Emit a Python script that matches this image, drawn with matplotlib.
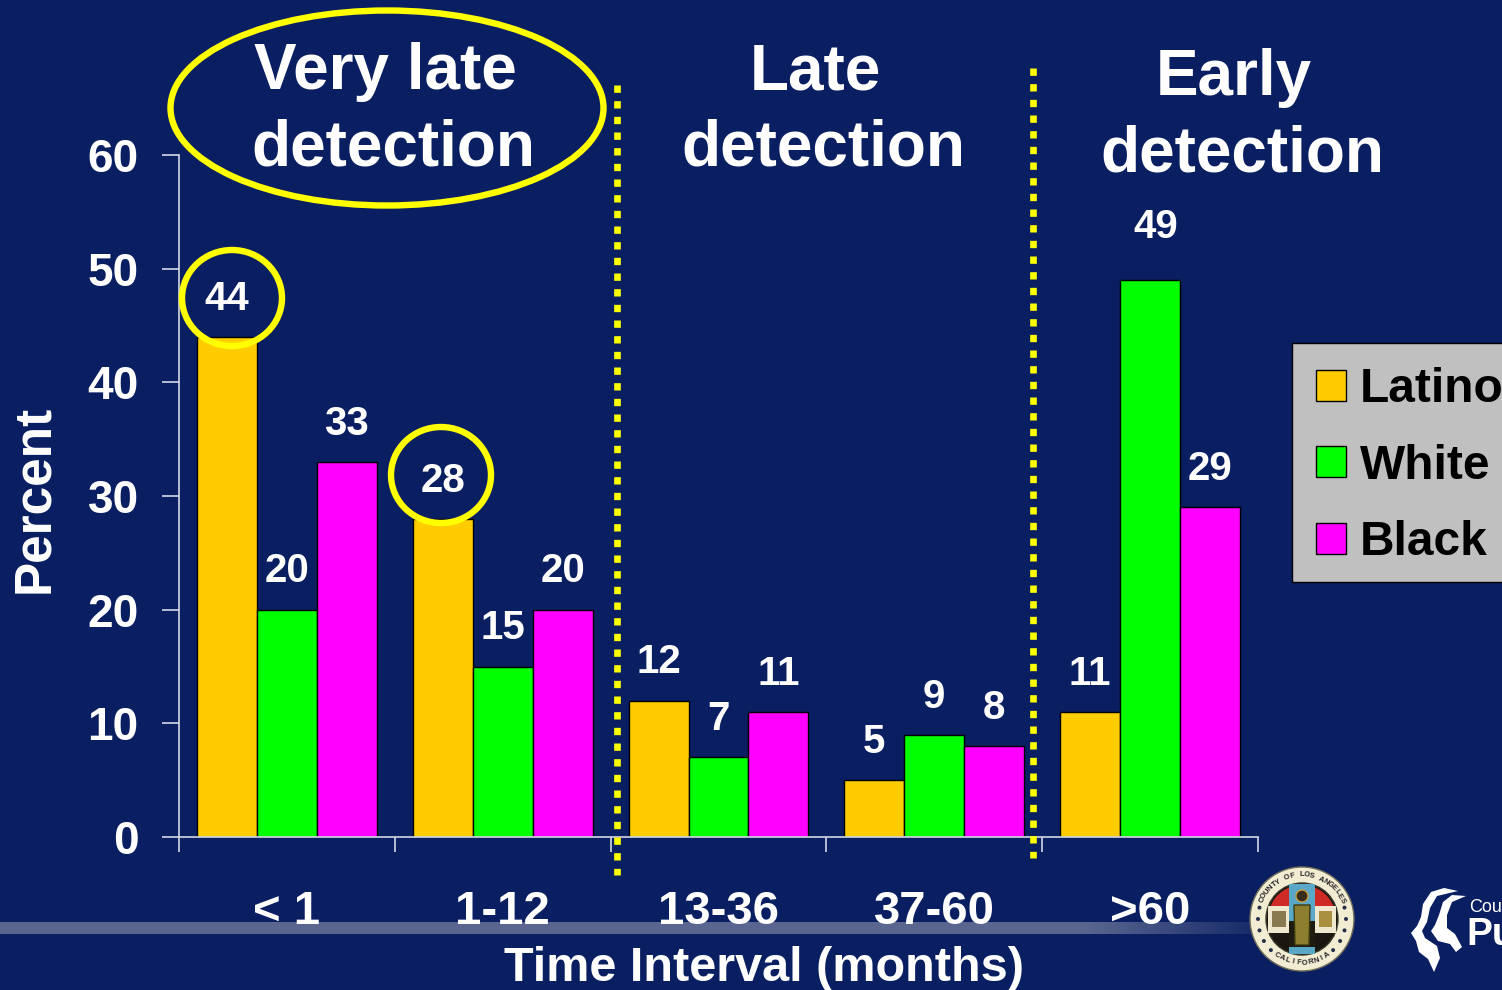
import numpy as np
import matplotlib
matplotlib.use('Agg')
import matplotlib.pyplot as plt
from matplotlib.patches import Ellipse, Circle, Rectangle, Polygon, Wedge

plt.rcParams['font.family'] = ['Liberation Sans', 'DejaVu Sans']
plt.rcParams['font.weight'] = 'bold'
plt.rcParams['axes.labelweight'] = 'bold'

W, H = 1502, 990
BG = '#0a1f62'
YEL = '#ffff00'
AXC = '#d4d8e4'

# data
categories = ['< 1', '1-12', '13-36', '37-60', '>60']
latino = [44, 28, 12, 5, 11]
white = [20, 15, 7, 9, 49]
black = [33, 20, 11, 8, 29]
series_names = ['Latino', 'White', 'Black']
series_colors = ['#ffcc00', '#00ff00', '#ff00ff']
y_ticks = [0, 10, 20, 30, 40, 50, 60]

fig = plt.figure(figsize=(W / 100, H / 100), dpi=100, facecolor=BG)

# background band behind the axis labels, plus the grey legend box
bg = fig.add_axes([0, 0, 1, 1], zorder=0)
bg.axis('off')
fade = np.ones((1, 400, 4))
fade[..., :3] = matplotlib.colors.to_rgb('#5a6690')
fade[..., 3] = np.clip((1290 - np.linspace(0, W, 400)) / 200, 0, 1)
bg.imshow(fade, extent=(0, W, 934, 922), aspect='auto', zorder=1)
bg.add_patch(Rectangle((1292, 343), 230, 239, fc='#c0c0c0', ec='black', lw=1.0, zorder=2))
bg.set_xlim(0, W)
bg.set_ylim(H, 0)

# main chart
ax = fig.add_axes([179 / W, (H - 837) / H, 1079 / W, 682 / H], zorder=2)
ax.patch.set_alpha(0)
x = np.arange(len(categories))
bw = 0.278
for i, vals in enumerate([latino, white, black]):
    bars = ax.bar(x + (i - 1) * bw, vals, bw, color=series_colors[i], edgecolor='black',
                  linewidth=1.0, label=series_names[i])
    for b, v in zip(bars, vals):
        # the 49 label sits higher and a bit right on the slide
        off = (0, 27.5) if v < 49 else (4, 38)
        ax.annotate(str(v), (b.get_x() + b.get_width() / 2, v), xytext=off,
                    textcoords='offset points', ha='center', va='center',
                    color='white', fontsize=29)

ax.set_xlim(-0.5, len(categories) - 0.5)
ax.set_ylim(0, 60)
for s in ['top', 'right']:
    ax.spines[s].set_visible(False)
for s in ['left', 'bottom']:
    ax.spines[s].set_color(AXC)
    ax.spines[s].set_linewidth(1.2)
ax.set_yticks(y_ticks)
ax.tick_params(axis='y', colors='white', labelsize=33, length=12, width=1.2, color=AXC, pad=17)
ax.set_xticks(np.arange(len(categories) + 1) - 0.5)
ax.set_xticklabels([])
ax.set_xticks(x, categories, minor=True)
ax.tick_params(axis='x', which='major', length=11, width=1.2, color=AXC)
ax.tick_params(axis='x', which='minor', length=0, colors='white', labelsize=34, pad=38)
ax.set_ylabel('Percent', color='white', fontsize=37)
ax.yaxis.set_label_coords(-0.111, 0.496)
ax.set_xlabel('Time Interval (months)', color='white', fontsize=35)
ax.xaxis.set_label_coords(0.542, -0.16)

leg = ax.legend(loc='upper left', bbox_to_anchor=((1292 - 179) / 1079, (837 - 343) / 682),
                borderaxespad=0, frameon=False, fontsize=34.5, handlelength=0.62, handleheight=0.62,
                handletextpad=0.3, labelspacing=0.66, borderpad=0.5, labelcolor='black')

# overlay: callouts, headings, logos, in pixel coordinates
ov = fig.add_axes([0, 0, 1, 1], zorder=3)
ov.set_xlim(0, W)
ov.set_ylim(H, 0)
ov.axis('off')

ov.add_patch(Ellipse((387, 108), 433, 195, fill=False, ec=YEL, lw=4.6))
ov.add_patch(Ellipse((232, 298), 100, 96, fill=False, ec=YEL, lw=4.6))
ov.add_patch(Ellipse((441, 475), 100, 96, fill=False, ec=YEL, lw=4.6))

for xp, y0, y1 in [(617, 85, 875), (1033, 68, 858)]:
    ov.plot([xp, xp], [y0, y1], color=YEL, lw=4.8, linestyle=(0, (1.1, 1.25)),
            dash_capstyle='butt')

for txt, xp, yp in [('Very late', 385, 72), ('detection', 393, 148), ('Late', 815, 72),
                    ('detection', 823, 148), ('Early', 1234, 78), ('detection', 1242, 154)]:
    ov.text(xp, yp, txt, color='white', fontsize=46, ha='center', va='center')

# county seal (y axis is flipped here, so wedge angles are mirrored)
sx, sy = 1302, 919
ov.add_patch(Circle((sx, sy), 52, fc='#f2ecd2', ec='#6f6c58', lw=1))
ov.add_patch(Circle((sx, sy), 36, fc='#1a1710', ec='#3a3828', lw=1))
ov.add_patch(Wedge((sx, sy), 34, 200, 340, fc='#cf2a26', ec='none'))
ov.add_patch(Rectangle((sx - 34, sy - 13), 68, 27, fc='#efe8cf', ec='none'))
ov.add_patch(Rectangle((sx - 13, sy - 35), 26, 70, fc='#5aa8c8', ec='none'))
ov.add_patch(Rectangle((sx - 13, sy + 2), 26, 31, fc='#1f1b10', ec='none'))
ov.add_patch(Polygon([(sx - 8, sy - 14), (sx + 8, sy - 14), (sx + 7, sy + 26), (sx - 7, sy + 26)],
                     fc='#8c8030', ec='#3d3a12', lw=1))
ov.add_patch(Circle((sx, sy - 23), 6, fc='#3a2c1c', ec='#c8a040', lw=1))
ov.add_patch(Rectangle((sx - 30, sy - 8), 14, 16, fc='#8a7a50', ec='none'))
ov.add_patch(Rectangle((sx + 17, sy - 8), 13, 16, fc='#a89040', ec='none'))
ov.add_patch(Rectangle((sx - 13, sy + 33 - 5), 26, 5, fc='#5aa8c8', ec='none'))
for ch, a in zip('COUNTY OF LOS ANGELES', np.linspace(155, 25, 21)):
    ov.text(sx + 44 * np.cos(np.radians(a)), sy - 44 * np.sin(np.radians(a)), ch, color='#26242a',
            fontsize=5.5, ha='center', va='center', rotation=a - 90)
for ch, a in zip('CALIFORNIA', np.linspace(235, 305, 10)):
    ov.text(sx + 44 * np.cos(np.radians(a)), sy - 44 * np.sin(np.radians(a)), ch, color='#26242a',
            fontsize=5.5, ha='center', va='center', rotation=a + 90)
for a in [165, 180, 195, 210, 225, 315, 330, 345, 0, 15]:
    ov.add_patch(Circle((sx + 44 * np.cos(np.radians(a)), sy - 44 * np.sin(np.radians(a))), 2,
                        fc='#26304a', ec='none'))

# public health logo, two head profiles
head1 = [(1458, 891), (1444, 888), (1431, 892), (1423, 904), (1421, 917), (1417, 926), (1411, 933),
         (1416, 941), (1419, 952), (1428, 959), (1434, 972), (1440, 958), (1437, 946), (1425, 938),
         (1422, 931), (1427, 922), (1430, 908), (1437, 896)]
head2 = [(1466, 896), (1452, 895), (1443, 902), (1439, 915), (1435, 925), (1431, 931), (1438, 941),
         (1450, 944), (1456, 952), (1462, 947), (1455, 934), (1447, 928), (1447, 915), (1452, 902)]
ov.add_patch(Polygon(head1, fc='white', ec='none'))
ov.add_patch(Polygon(head2, fc='white', ec='none'))
ov.text(1469, 908, 'Coun', color='white', fontsize=13, ha='left', va='center', fontweight='normal')
ov.text(1466, 935, 'Pu', color='white', fontsize=28, ha='left', va='center')

fig.savefig('out.png', dpi=100, facecolor=BG)
